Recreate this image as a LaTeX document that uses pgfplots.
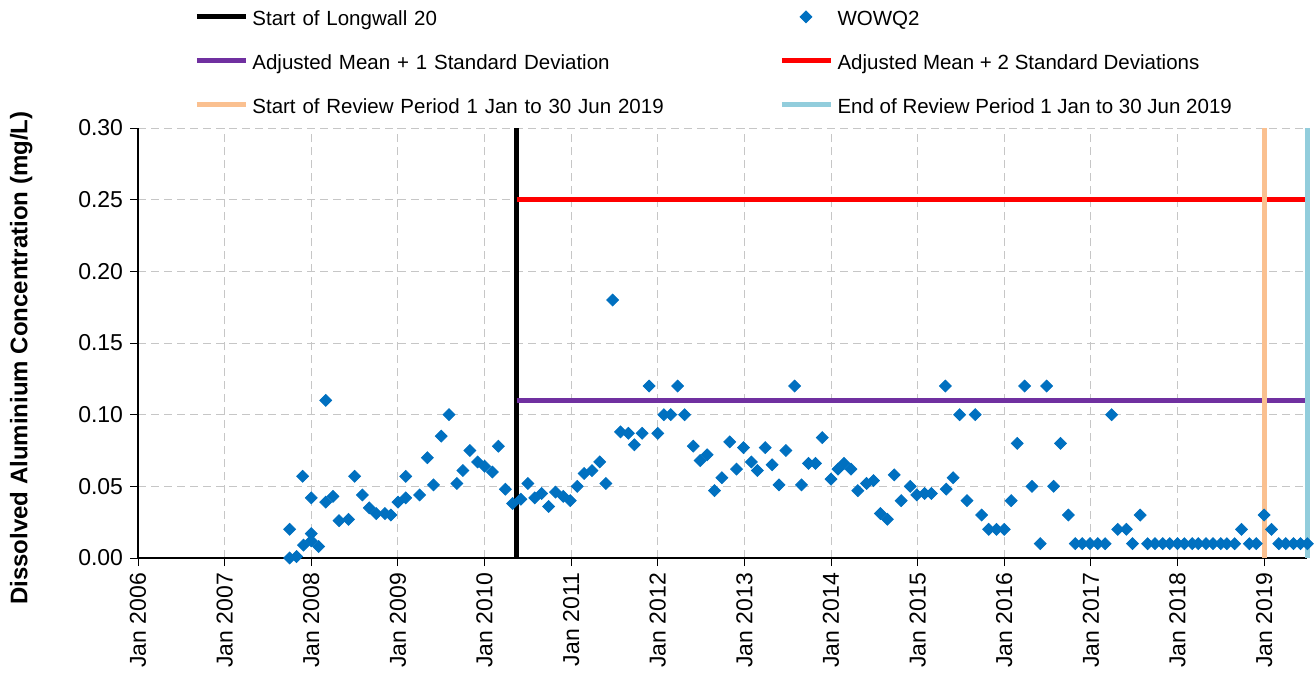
\documentclass[border=0pt]{standalone}
\usepackage{fontspec}
\setmainfont{Liberation Sans}
\usepackage{pgfplots}
\pgfplotsset{compat=1.18}
\definecolor{wblue}{HTML}{0070C0}
\definecolor{wpurple}{HTML}{7030A0}
\definecolor{worange}{HTML}{FAC090}
\definecolor{wlblue}{HTML}{92CDDC}
\pgfplotsset{markleg/.style={legend image code/.code={\draw[##1] plot coordinates {(12pt,0pt)};}}}
\pgfplotstableread{
x y
2007.75 0.000
2007.83 0.001
2007.75 0.020
2007.90 0.057
2007.91 0.009
2008.00 0.017
2008.00 0.042
2008.00 0.012
2008.085 0.008
2008.166 0.110
2008.166 0.039
2008.25 0.043
2008.32 0.026
2008.43 0.027
2008.50 0.057
2008.59 0.044
2008.67 0.035
2008.75 0.031
2008.85 0.031
2008.92 0.030
2009.00 0.039
2009.09 0.042
2009.09 0.057
2009.25 0.044
2009.34 0.070
2009.41 0.051
2009.50 0.085
2009.59 0.100
2009.68 0.052
2009.75 0.061
2009.83 0.075
2009.92 0.067
2010.00 0.064
2010.09 0.060
2010.16 0.078
2010.24 0.048
2010.325 0.038
2010.42 0.041
2010.50 0.052
2010.58 0.042
2010.66 0.045
2010.74 0.036
2010.82 0.046
2010.91 0.043
2010.99 0.040
2011.07 0.050
2011.15 0.059
2011.24 0.061
2011.33 0.067
2011.40 0.052
2011.48 0.180
2011.57 0.088
2011.66 0.087
2011.73 0.079
2011.82 0.087
2011.90 0.120
2012.00 0.087
2012.07 0.100
2012.15 0.100
2012.23 0.120
2012.31 0.100
2012.41 0.078
2012.49 0.068
2012.57 0.072
2012.655 0.047
2012.74 0.056
2012.83 0.081
2012.91 0.062
2012.99 0.077
2013.08 0.067
2013.15 0.061
2013.24 0.077
2013.32 0.065
2013.40 0.051
2013.48 0.075
2013.58 0.120
2013.66 0.051
2013.74 0.066
2013.82 0.066
2013.90 0.084
2014.00 0.055
2014.08 0.062
2014.15 0.066
2014.23 0.062
2014.31 0.047
2014.41 0.052
2014.49 0.054
2014.57 0.031
2014.65 0.027
2014.73 0.058
2014.81 0.040
2014.915 0.050
2014.99 0.044
2015.08 0.045
2015.16 0.045
2015.32 0.120
2015.33 0.048
2015.41 0.056
2015.485 0.100
2015.57 0.040
2015.665 0.100
2015.74 0.030
2015.82 0.020
2015.91 0.020
2016.00 0.020
2016.08 0.040
2016.15 0.080
2016.235 0.120
2016.32 0.050
2016.415 0.010
2016.49 0.120
2016.57 0.050
2016.65 0.080
2016.74 0.030
2016.82 0.010
2016.90 0.010
2016.99 0.010
2017.08 0.010
2017.165 0.010
2017.24 0.100
2017.31 0.020
2017.41 0.020
2017.48 0.010
2017.57 0.030
2017.655 0.010
2017.74 0.010
2017.83 0.010
2017.91 0.010
2018.00 0.010
2018.08 0.010
2018.17 0.010
2018.24 0.010
2018.33 0.010
2018.41 0.010
2018.50 0.010
2018.57 0.010
2018.66 0.010
2018.74 0.020
2018.83 0.010
2018.91 0.010
2019.00 0.030
2019.085 0.020
2019.17 0.010
2019.25 0.010
2019.34 0.010
2019.42 0.010
2019.50 0.010
}\wowq
\begin{document}
\begin{tikzpicture}
\begin{axis}[
  scale only axis, width=584.5pt, height=215pt,
  xmin=2006, xmax=2019.496, ymin=0, ymax=0.30,
  clip=false,
  axis x line=bottom, axis y line=left,
  axis line style={-, black, line width=0.6pt},
  xtick={2006,2007,2008,2009,2010,2011,2012,2013,2014,2015,2016,2017,2018,2019},
  xticklabels={Jan 2006,Jan 2007,Jan 2008,Jan 2009,Jan 2010,Jan 2011,Jan 2012,Jan 2013,Jan 2014,Jan 2015,Jan 2016,Jan 2017,Jan 2018,Jan 2019},
  ytick={0,0.05,0.10,0.15,0.20,0.25,0.30},
  /pgf/number format/assume math mode=true,
  yticklabel style={/pgf/number format/fixed, /pgf/number format/fixed zerofill, /pgf/number format/precision=2},
  tick align=outside, major tick length=4pt,
  tick style={black, line width=0.5pt},
  grid=major,
  major grid style={gray!45, dash pattern=on 4pt off 2.5pt, line width=0.5pt},
  tick label style={font=\fontsize{11.5}{13}\selectfont},
  xticklabel style={rotate=90, anchor=east},
  ylabel={Dissolved Aluminium Concentration (mg/L)},
  ylabel style={font=\bfseries\fontsize{12}{14}\selectfont, at={(axis description cs:-0.1,0.465)}, anchor=center},
  legend columns=2,
  legend cell align=left,
  legend style={draw=none, fill=none, inner sep=0pt, outer sep=0pt,
    at={(axis description cs:0.048,1.2947)}, anchor=north west,
    font=\fontsize{10.25}{12}\selectfont, row sep=6.5pt, column sep=0pt,
    /tikz/every even column/.append style={inner xsep=0pt, inner ysep=3pt, text height=10pt, text depth=3pt},
    /tikz/column 2/.append style={text width=261.5pt},
    /tikz/every odd column/.append style={inner sep=0pt}},
  legend image code/.code={\draw[#1] (0pt,0pt) -- (24.5pt,0pt);},
]
\addlegendimage{black, line width=2.6pt}
\addlegendentry{Start of Longwall 20}
\addlegendimage{only marks, mark=square*, mark size=2.1pt, mark options={rotate=45, draw=wblue, fill=wblue}, markleg}
\addlegendentry{WOWQ2}
\addlegendimage{wpurple, line width=2.6pt}
\addlegendentry{Adjusted Mean + 1 Standard Deviation}
\addlegendimage{red, line width=2.6pt}
\addlegendentry{Adjusted Mean + 2 Standard Deviations}
\addlegendimage{worange, line width=2.6pt}
\addlegendentry{Start of Review Period 1 Jan to 30 Jun 2019}
\addlegendimage{wlblue, line width=2.6pt}
\addlegendentry{End of Review Period 1 Jan to 30 Jun 2019}

\addplot[black, line width=2.75pt, forget plot] coordinates {(2010.37,0) (2010.37,0.30)};
\addplot[red, line width=2.5pt, forget plot] coordinates {(2010.37,0.25) (2019.496,0.25)};
\addplot[wpurple, line width=2.5pt, forget plot] coordinates {(2010.37,0.11) (2019.496,0.11)};
\addplot[worange, line width=2.5pt, forget plot] coordinates {(2019,0) (2019,0.30)};
\addplot[wlblue, line width=2.5pt, forget plot] coordinates {(2019.496,0) (2019.496,0.30)};
\addplot[only marks, mark=square*, mark size=2.1pt, mark options={rotate=45, draw=wblue, fill=wblue}, forget plot] table[x=x, y=y] {\wowq};
\path (axis description cs:-0.1181,-0.2581) rectangle (axis description cs:1.0068,1.2977);
\end{axis}
\end{tikzpicture}
\end{document}
